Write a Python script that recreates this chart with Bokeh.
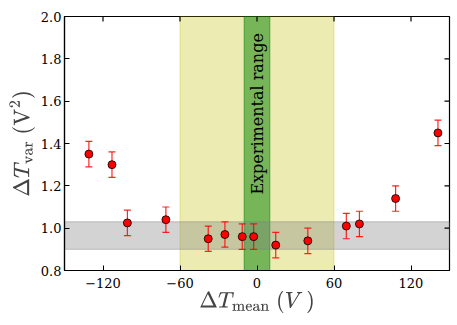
import math
from bokeh.plotting import figure
from bokeh.models import (ColumnDataSource, Whisker, TeeHead, BoxAnnotation, Label,
                          FixedTicker, Range1d, PrintfTickFormatter)
from bokeh.embed import file_html
from bokeh.resources import INLINE

# data
dt_mean = [-131, -113, -101, -71, -38, -25, -11.5, -2.6, 14.6, 39.6, 69.6, 79.8, 108, 141]
dt_var = [1.35, 1.30, 1.025, 1.04, 0.95, 0.97, 0.96, 0.96, 0.92, 0.94, 1.01, 1.02, 1.14, 1.45]
err = [0.06, 0.06, 0.06, 0.06, 0.06, 0.06, 0.06, 0.06, 0.06, 0.06, 0.06, 0.06, 0.06, 0.06]
x_ticks = [-120, -60, 0, 60, 120]
y_ticks = [0.8, 1.0, 1.2, 1.4, 1.6, 1.8, 2.0]
x_lim = (-150, 150)
y_lim = (0.8, 2.0)
yellow_band = (-60, 60)
green_band = (-10, 10)
gray_band = (0.9, 1.03)
band_label = "Experimental range"

src = ColumnDataSource(dict(
    x=dt_mean, y=dt_var,
    lo=[v - e for v, e in zip(dt_var, err)],
    hi=[v + e for v, e in zip(dt_var, err)],
))

p = figure(width=457, height=325, output_backend="svg", toolbar_location=None,
           x_range=Range1d(*x_lim), y_range=Range1d(*y_lim),
           min_border_left=64, min_border_right=8, min_border_top=16, min_border_bottom=55)
p.grid.visible = False
p.outline_line_color = "black"
p.outline_line_width = 1.2
p.background_fill_color = "white"
p.border_fill_color = "white"

font = "DejaVu Serif"
for ax, tk in ((p.xaxis[0], x_ticks), (p.yaxis[0], y_ticks)):
    ax.ticker = FixedTicker(ticks=tk)
    ax.major_tick_in = 5
    ax.major_tick_out = 0
    ax.minor_tick_in = 0
    ax.minor_tick_out = 0
    ax.major_label_text_font = font
    ax.major_label_text_font_size = "13px"
    ax.major_label_text_color = "black"
    ax.axis_line_color = "black"
    ax.axis_line_width = 1.2
    ax.axis_label_text_font = font
    ax.axis_label_text_font_style = "normal"
    ax.axis_label_text_font_size = "18px"
p.xaxis[0].major_label_standoff = 7
p.yaxis[0].major_label_standoff = 3
p.xaxis[0].axis_label_standoff = 0
p.yaxis[0].axis_label_standoff = 3
p.yaxis[0].formatter = PrintfTickFormatter(format="%.1f")
p.xaxis[0].major_label_overrides = {-120: "\u2212120", -60: "\u221260"}
p.xaxis[0].axis_label = r"$$\Delta T_{\rm mean}\ (V\,)$$"
p.yaxis[0].axis_label = r"$$\Delta T_{\rm var}\ ({\rm V}^2)$$"

# inward ticks on the top and right edges
p.ray(x=x_ticks, y=[y_lim[1]] * len(x_ticks), length=5, length_units="screen",
      angle=-math.pi / 2, line_color="black", line_width=1.2)
p.ray(x=[x_lim[1]] * len(y_ticks), y=y_ticks, length=5, length_units="screen",
      angle=math.pi, line_color="black", line_width=1.2)

p.add_layout(BoxAnnotation(left=yellow_band[0], right=yellow_band[1],
                           fill_color=(191, 191, 0), fill_alpha=0.3,
                           line_color=(191, 191, 0), line_alpha=0.35, line_width=1, level="underlay"))
p.add_layout(BoxAnnotation(left=green_band[0], right=green_band[1],
                           fill_color=(0, 128, 0), fill_alpha=0.5,
                           line_color=(0, 128, 0), line_alpha=0.55, line_width=1, level="underlay"))
p.add_layout(BoxAnnotation(bottom=gray_band[0], top=gray_band[1],
                           fill_color=(128, 128, 128), fill_alpha=0.35,
                           line_color=(128, 128, 128), line_alpha=0.45, line_width=1, level="underlay"))

p.add_layout(Label(x=0.5, y=1.54, text=band_label, angle=90, angle_units="deg",
                   text_align="center", text_baseline="middle",
                   text_font=font, text_font_size="16px", text_color="black"))

w = Whisker(source=src, base="x", upper="hi", lower="lo", dimension="height",
            line_color="red", line_width=1.2, line_alpha=0.85,
            upper_head=TeeHead(size=7, line_color="red", line_width=1.2, line_alpha=0.85),
            lower_head=TeeHead(size=7, line_color="red", line_width=1.2, line_alpha=0.85))
p.add_layout(w)
p.scatter("x", "y", source=src, size=8, fill_color="red", line_color="black", line_width=0.8)

open("out.html", "w").write(file_html(p, INLINE))
